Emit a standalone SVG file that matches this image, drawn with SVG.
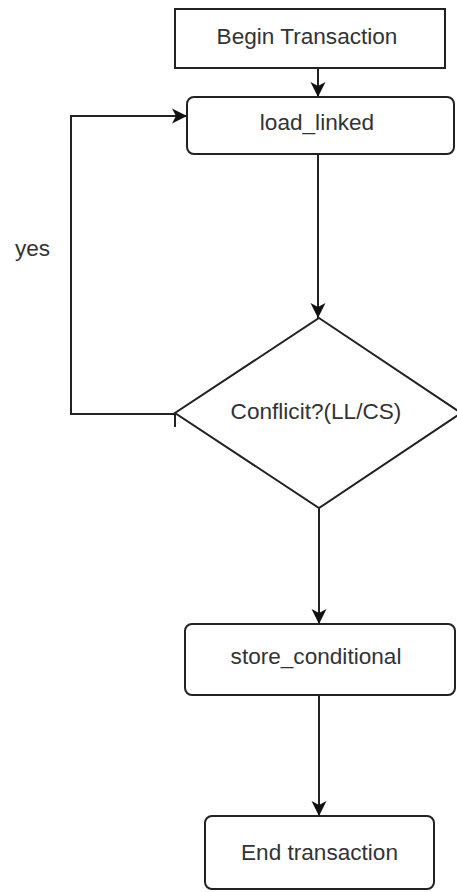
<svg xmlns="http://www.w3.org/2000/svg" width="457" height="892" viewBox="0 0 457 892">
<style>
.box{fill:#fff;stroke:#222;stroke-width:2}
.lbl{font-family:"Liberation Sans",Arial,sans-serif;font-size:22.6px;fill:#333;text-anchor:middle}
.edge{fill:none;stroke:#222;stroke-width:2}
</style>
<defs>
<marker id="arr" markerUnits="userSpaceOnUse" markerWidth="18" markerHeight="18" viewBox="-16 -9 18 18" refX="0" refY="0" orient="auto">
<path d="M0,0 L-15,-7.5 L-11,0 L-15,7.5 Z" fill="#111"/>
</marker>
</defs>
<rect width="457" height="892" fill="#fff"/>
<g id="connectors">
<line class="edge" x1="318" y1="68" x2="318" y2="97" marker-end="url(#arr)"/>
<line class="edge" x1="318" y1="154" x2="318" y2="318" marker-end="url(#arr)"/>
<polyline class="edge" points="175,414 71,414 71,116 187,116" marker-end="url(#arr)"/>
<line class="edge" x1="175" y1="414" x2="175" y2="427"/>
<line class="edge" x1="319" y1="508" x2="319" y2="624" marker-end="url(#arr)"/>
<line class="edge" x1="319" y1="695" x2="319" y2="816" marker-end="url(#arr)"/>
<text class="lbl" x="32.5" y="256">yes</text>
</g>
<g id="begin">
<rect class="box" x="175" y="9" width="270" height="59"/>
<text class="lbl" x="307" y="44">Begin Transaction</text>
</g>
<g id="load_linked">
<rect class="box" x="187" y="97" width="267" height="57" rx="7"/>
<text class="lbl" x="317" y="130">load_linked</text>
</g>
<g id="conflict">
<polygon class="box" points="319,318 461,413 319,508 175,413"/>
<text class="lbl" x="316" y="419">Conflicit?(LL/CS)</text>
</g>
<g id="store_conditional">
<rect class="box" x="185" y="624" width="270" height="71" rx="7"/>
<text class="lbl" x="316" y="664">store_conditional</text>
</g>
<g id="end">
<rect class="box" x="205" y="816" width="229" height="73" rx="7"/>
<text class="lbl" x="319.5" y="860">End transaction</text>
</g>
</svg>
